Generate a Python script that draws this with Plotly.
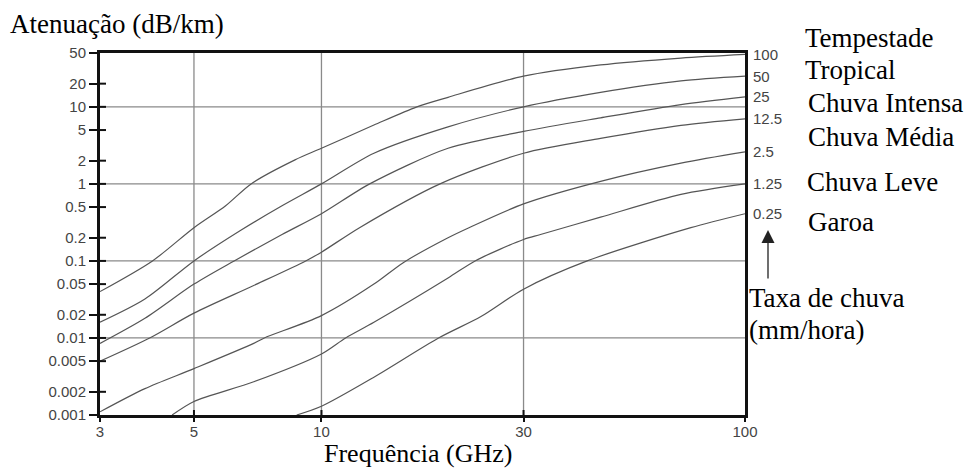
import numpy as np
import plotly.graph_objects as go

# ---------------- data ----------------
RAIN_RATES = ["100", "50", "25", "12.5", "2.5", "1.25", "0.25"]

F_100 = [3, 3.99, 5, 5.94, 6.82, 8.66, 10, 13.3, 16.8, 19.9, 30, 45.6, 70.6, 100]
A_100 = [0.04, 0.1, 0.27, 0.52, 1.0, 2.05, 2.9, 5.8, 10, 13.3, 25, 35, 43, 48]

F_50 = [3, 3.83, 5, 6.45, 8.07, 10, 13.3, 19.9, 30, 45.6, 70.6, 100]
A_50 = [0.016, 0.032, 0.1, 0.25, 0.52, 1.0, 2.5, 5.5, 10, 15.4, 21.7, 25]

F_25 = [3, 3.83, 5, 6.22, 8.07, 10, 13.0, 19.9, 30, 45.6, 70.6, 100]
A_25 = [0.0085, 0.018, 0.05, 0.1, 0.22, 0.41, 1.0, 2.9, 4.8, 7.2, 10.7, 13.5]

F_12_5 = [3, 3.93, 5, 6.92, 9.18, 10, 12.3, 19.05, 30, 45.6, 70.6, 100]
A_12_5 = [0.005, 0.01, 0.021, 0.048, 0.1, 0.13, 0.27, 1.0, 2.5, 3.9, 5.76, 7.0]

F_2_5 = [3, 3.83, 5, 6.92, 7.33, 10, 13.3, 15.6, 19.9, 22.3, 30, 45.6, 70.6, 100]
A_2_5 = [0.0011, 0.0022, 0.004, 0.0085, 0.01, 0.0195, 0.05, 0.095, 0.2, 0.27, 0.55, 1.08, 1.86, 2.6]

F_1_25 = [4.44, 5, 6.92, 10, 11.4, 13.3, 19.9, 23.05, 30, 32.9, 45.6, 70.6, 100]
A_1_25 = [0.001, 0.0015, 0.0027, 0.0062, 0.01, 0.016, 0.06, 0.1, 0.19, 0.22, 0.37, 0.73, 1.0]

F_0_25 = [8.74, 10, 13.3, 18.9, 23.8, 30, 42.4, 74.5, 100]
A_0_25 = [0.001, 0.0013, 0.0031, 0.01, 0.019, 0.043, 0.1, 0.27, 0.41]

X_TICKS = [3, 5, 10, 30, 100]
X_TICK_TEXT = ["3", "5", "10", "30", "100"]
X_GRID = [5, 10, 30]

Y_TICKS = [0.001, 0.002, 0.005, 0.01, 0.02, 0.05, 0.1, 0.2, 0.5, 1, 2, 5, 10, 20, 50]
Y_TICK_TEXT = ["0.001", "0.002", "0.005", "0.01", "0.02", "0.05", "0.1", "0.2",
               "0.5", "1", "2", "5", "10", "20", "50"]
Y_GRID = [0.01, 0.1, 1, 10]

CATEGORY_LABELS = ["Tempestade", "Tropical", "Chuva Intensa", "Chuva Média",
                   "Chuva Leve", "Garoa"]

SERIES = [(F_100, A_100), (F_50, A_50), (F_25, A_25), (F_12_5, A_12_5),
          (F_2_5, A_2_5), (F_1_25, A_1_25), (F_0_25, A_0_25)]

# ---------------- layout helpers ----------------
W, H = 968, 468
L, R, T, B = 100, 745, 53, 415   # plot area in pixels


def px_x(p):
    return (p - L) / (R - L)


def px_y(p):
    return (B - p) / (B - T)


SANS = "Liberation Sans, Arial, sans-serif"
SERIF = "Liberation Serif, Times New Roman, serif"
TICK_COLOR = "#444444"
CURVE_COLOR = "#555555"
GRID_COLOR = "#8a8a8a"

fig = go.Figure()

for (f, a), name in zip(SERIES, RAIN_RATES):
    fig.add_trace(go.Scatter(
        x=f, y=a, mode="lines", name=name,
        line=dict(color=CURVE_COLOR, width=1.2, shape="spline", smoothing=0.8),
        hoverinfo="skip", showlegend=False,
    ))

shapes = []
# grid lines
for g in Y_GRID:
    shapes.append(dict(type="line", xref="paper", yref="y", x0=0, x1=1, y0=g, y1=g,
                       line=dict(color=GRID_COLOR, width=1.3), layer="below"))
for g in X_GRID:
    shapes.append(dict(type="line", xref="x", yref="paper", x0=g, x1=g, y0=0, y1=1,
                       line=dict(color=GRID_COLOR, width=1.3), layer="below"))
# inner half of the y tick marks (ticks cross the axis line)
for v in Y_TICKS[1:-1]:
    shapes.append(dict(type="line", xref="paper", yref="y", x0=0, x1=6 / (R - L),
                       y0=v, y1=v, line=dict(color="#111111", width=2)))
# inner half of the x tick marks
for v in X_TICKS[1:-1]:
    shapes.append(dict(type="line", xref="x", yref="paper", x0=v, x1=v, y0=0,
                       y1=5 / (B - T), line=dict(color="#111111", width=2)))

annotations = []
# rain-rate labels at the end of each curve
for (f, a), name in zip(SERIES, RAIN_RATES):
    annotations.append(dict(
        x=np.log10(f[-1]), y=np.log10(a[-1]), xref="x", yref="y",
        text=name, showarrow=False, xanchor="left", yanchor="middle", xshift=6,
        font=dict(family=SANS, size=15, color=TICK_COLOR)))

# category labels on the right
cat_pos = [(803, 38), (803, 70), (806, 103), (806, 137), (805, 182), (806, 222)]
for text, (px, py) in zip(CATEGORY_LABELS, cat_pos):
    annotations.append(dict(x=px_x(px), y=px_y(py), xref="paper", yref="paper",
                            text=text, showarrow=False, xanchor="left", yanchor="middle",
                            font=dict(family=SERIF, size=27, color="#000000")))

for text, (px, py) in zip(["Taxa de chuva", "(mm/hora)"], [(747, 298), (747, 330)]):
    annotations.append(dict(x=px_x(px), y=px_y(py), xref="paper", yref="paper",
                            text=text, showarrow=False, xanchor="left", yanchor="middle",
                            font=dict(family=SERIF, size=27, color="#000000")))

# axis titles
annotations.append(dict(x=px_x(8), y=px_y(24), xref="paper", yref="paper",
                        text="Atenuação (dB/km)", showarrow=False, xanchor="left",
                        yanchor="middle", font=dict(family=SERIF, size=27, color="#000000")))
annotations.append(dict(x=px_x(418), y=px_y(453), xref="paper", yref="paper",
                        text="Frequência (GHz)", showarrow=False, xanchor="center",
                        yanchor="middle", font=dict(family=SERIF, size=26, color="#000000")))

# arrow
annotations.append(dict(x=px_x(768), y=px_y(230), xref="paper", yref="paper",
                        text="", showarrow=True, ax=0, ay=50, arrowhead=2,
                        arrowsize=2.0, arrowwidth=1.3, arrowcolor="#222222"))

fig.update_layout(
    width=W, height=H,
    margin=dict(l=L, r=W - R, t=T, b=H - B, pad=0),
    paper_bgcolor="white", plot_bgcolor="white",
    shapes=shapes, annotations=annotations,
    xaxis=dict(type="log", range=[np.log10(3), 2], tickvals=X_TICKS, ticktext=X_TICK_TEXT,
               showgrid=False, zeroline=False, showline=True, linewidth=3,
               linecolor="#111111", mirror=True, ticks="outside", ticklen=4,
               tickwidth=2, tickcolor="#111111", ticklabelstandoff=-3,
               tickfont=dict(family=SANS, size=15, color=TICK_COLOR)),
    yaxis=dict(type="log", range=[-3, np.log10(50)], tickvals=Y_TICKS, ticktext=Y_TICK_TEXT,
               showgrid=False, zeroline=False, showline=True, linewidth=3,
               linecolor="#111111", mirror=True, ticks="outside", ticklen=8,
               tickwidth=2, tickcolor="#111111",
               tickfont=dict(family=SANS, size=15, color=TICK_COLOR)),
)

fig.write_html("out.html")
